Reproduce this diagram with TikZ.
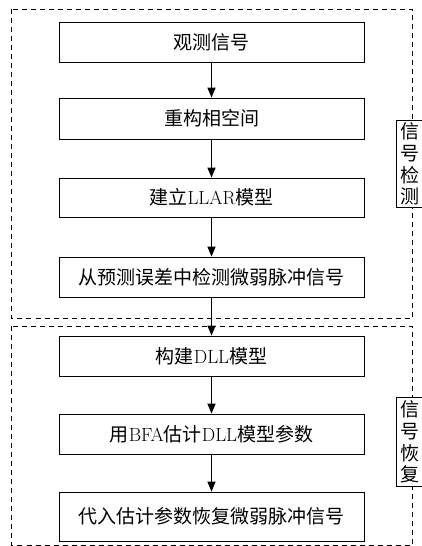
\documentclass[tikz,border=0pt]{standalone}
\usepackage{fontspec}
\newfontfamily\cjk{Noto Sans CJK SC}
\usetikzlibrary{arrows.meta}
\begin{document}
\begin{tikzpicture}[x=1pt,y=-1pt,
  stepbox/.style={draw, line width=0.8pt, minimum width=305pt, minimum height=40pt, inner sep=0pt, font=\fontsize{19}{22}\selectfont},
  framebox/.style={draw, dashed, dash pattern=on 5pt off 4pt, line width=0.8pt},
  sidelab/.style={fill=white, minimum width=25pt, inner sep=0pt, align=center, font=\fontsize{19}{21.7}\selectfont\cjk},
  sideedge/.style={line width=0.8pt},
  arr/.style={line width=1.3pt, -{Triangle[length=10pt,width=8pt]}}]
\useasboundingbox (0,0) rectangle (422,546);
% dashed frames
\draw[framebox] (11.5,9) rectangle (412,318);
\draw[framebox] (11.5,326) rectangle (412,545);
% side labels
\node[sidelab, minimum height=86pt] (s1) at (409.5,164) {信\\号\\检\\测};
\draw[sideedge] (s1.north east) -- (s1.north west) -- (s1.south west) -- (s1.south east);
\node[sidelab, minimum height=88pt] (s2) at (409.5,442) {信\\号\\恢\\复};
\draw[sideedge] (s2.north east) -- (s2.north west) -- (s2.south west) -- (s2.south east);
% steps
\node[stepbox] (b1) at (211.5,42) {\cjk 观测信号};
\node[stepbox, minimum height=41pt] (b2) at (211.5,118.5) {\cjk 重构相空间};
\node[stepbox, minimum height=39pt] (b3) at (211.5,197.5) {{\cjk 建立}LLAR{\cjk 模型}};
\node[stepbox] (b4) at (211.5,277) {\cjk 从预测误差中检测微弱脉冲信号};
\node[stepbox] (b5) at (211.5,356) {{\cjk 构建}DLL{\cjk 模型}};
\node[stepbox] (b6) at (211.5,434) {{\cjk 用}BFA{\cjk 估计}DLL{\cjk 模型参数}};
\node[stepbox, minimum height=49pt] (b7) at (211.5,516.5) {\cjk 代入估计参数恢复微弱脉冲信号};
% arrows
\draw[arr] (b1.south) -- (b2.north);
\draw[arr] (b2.south) -- (b3.north);
\draw[arr] (b3.south) -- (b4.north);
\draw[arr] (b4.south) -- (b5.north);
\draw[arr] (b5.south) -- (b6.north);
\draw[arr] (b6.south) -- (b7.north);
\end{tikzpicture}
\end{document}
